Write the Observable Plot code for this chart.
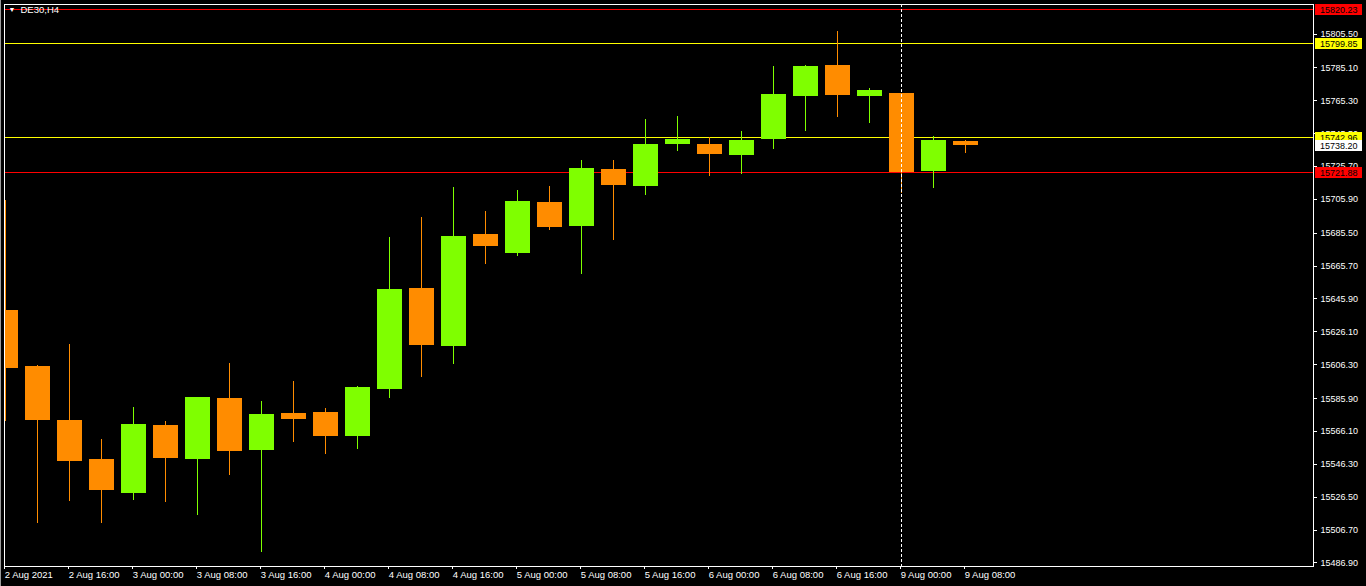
<!DOCTYPE html>
<html>
<head>
<meta charset="utf-8">
<script src="https://cdn.jsdelivr.net/npm/d3@7"></script>
<script src="https://cdn.jsdelivr.net/npm/@observablehq/plot@0.6"></script>
<style>
html, body { margin: 0; padding: 0; background: #000; overflow: hidden; }
#chart { position: relative; width: 1366px; height: 586px; }
#edge { position: absolute; left: 0; top: 0; width: 1px; height: 586px; background: #9a9a9a; }
</style>
</head>
<body>
<div id="chart"><div id="edge"></div></div>
<script>
// ---- data (DE30, H4) ----
const barTimes = [
  "2021-08-02 08:00","2021-08-02 12:00","2021-08-02 16:00","2021-08-02 20:00",
  "2021-08-03 00:00","2021-08-03 04:00","2021-08-03 08:00","2021-08-03 12:00","2021-08-03 16:00","2021-08-03 20:00",
  "2021-08-04 00:00","2021-08-04 04:00","2021-08-04 08:00","2021-08-04 12:00","2021-08-04 16:00","2021-08-04 20:00",
  "2021-08-05 00:00","2021-08-05 04:00","2021-08-05 08:00","2021-08-05 12:00","2021-08-05 16:00","2021-08-05 20:00",
  "2021-08-06 00:00","2021-08-06 04:00","2021-08-06 08:00","2021-08-06 12:00","2021-08-06 16:00","2021-08-06 20:00",
  "2021-08-09 00:00","2021-08-09 04:00","2021-08-09 08:00"
];
const opens  = [15638.9,15605.0,15572.7,15549.2,15528.7,15569.7,15549.2,15585.9,15554.6,15576.9,
                15577.5,15563.0,15591.3,15652.2,15617.2,15684.7,15673.3,15704.0,15689.5,15723.9,
                15713.6,15738.9,15738.9,15732.3,15741.9,15767.8,15786.5,15767.8,15769.7,15722.7,15740.7];
const highs  = [15705.2,15605.8,15618.5,15561.2,15580.5,15572.1,15586.5,15607.0,15584.1,15596.2,
                15579.9,15593.1,15682.9,15695.0,15713.0,15698.6,15711.2,15713.6,15729.3,15729.3,
                15754.0,15755.8,15743.2,15746.8,15785.9,15786.5,15807.0,15772.7,15769.7,15743.8,15741.3];
const lows   = [15572.2,15510.8,15523.9,15510.8,15524.5,15523.3,15515.4,15539.5,15493.2,15559.4,
                15552.2,15555.2,15585.9,15598.6,15606.4,15666.6,15671.5,15687.1,15660.6,15681.1,
                15708.2,15734.7,15719.7,15720.9,15735.9,15746.8,15755.2,15751.6,15709.4,15712.4,15733.5];
const closes = [15604.2,15572.7,15548.0,15530.5,15570.3,15549.8,15586.5,15554.0,15576.3,15573.3,
                15563.0,15592.5,15651.6,15617.8,15683.5,15677.5,15704.6,15688.9,15724.5,15714.2,
                15738.9,15741.9,15732.9,15741.3,15769.1,15785.9,15768.5,15771.5,15721.88,15741.3,15738.2];

const timeTickIdx = [0,2,4,6,8,10,12,14,16,18,20,22,24,26,28,30];
const timeTickLabels = ["2 Aug 2021","2 Aug 16:00","3 Aug 00:00","3 Aug 08:00","3 Aug 16:00",
  "4 Aug 00:00","4 Aug 08:00","4 Aug 16:00","5 Aug 00:00","5 Aug 08:00","5 Aug 16:00",
  "6 Aug 00:00","6 Aug 08:00","6 Aug 16:00","9 Aug 00:00","9 Aug 08:00"];
const priceTicks = [15805.5,15785.1,15765.3,15745.5,15725.7,15705.9,15685.5,15665.7,15645.9,
  15626.1,15606.3,15585.9,15566.1,15546.3,15526.5,15506.7,15486.9];

const redLevels = [15820.23, 15721.88];
const yellowLevels = [15799.85, 15742.96];
const bidPrice = 15738.20;
const separatorTime = "2021-08-09 00:00";
const symbolTitle = "DE30,H4";

// ---- styles ----
const UP = "#7FFF00", DOWN = "#FF8C00";
const FONT = "Liberation Sans, Arial, sans-serif";
const candles = opens.map((o, i) => ({i, time: barTimes[i], open: o, high: highs[i], low: lows[i], close: closes[i]}));
const col = d => d.close >= d.open ? UP : DOWN;
const sepIdx = barTimes.indexOf(separatorTime);

const W = 1366, H = 586, mL = 4, mR = 53, mT = 4, mB = 20;
const crisp = {shapeRendering: "crispEdges"};

const plot = Plot.plot({
  width: W, height: H,
  marginLeft: mL, marginRight: mR, marginTop: mT, marginBottom: mB,
  style: {background: "#000", color: "#fff", fontFamily: FONT, fontSize: "9.5px"},
  x: {domain: [-0.04, 40.87]},
  y: {domain: [15484.79, 15823.27]},
  color: {type: "identity"},
  marks: [
    Plot.ruleY(redLevels, {stroke: "#FF0000", strokeWidth: 1, ...crisp}),
    Plot.ruleY(yellowLevels, {stroke: "#FFFF00", strokeWidth: 1, ...crisp}),
    Plot.ruleX(candles, {x: "i", y1: "low", y2: "high", stroke: col, strokeWidth: 1, clip: true, ...crisp}),
    Plot.ruleX(candles, {x: "i", y1: "open", y2: "close", stroke: col, strokeWidth: 25, clip: true, ...crisp}),
    Plot.ruleX([sepIdx], {stroke: "#fff", strokeDasharray: "3,2", strokeWidth: 1, ...crisp}),
    Plot.frame({stroke: "#fff", ...crisp}),
    Plot.axisY({anchor: "right", ticks: priceTicks, tickFormat: d => d.toFixed(2), tickSize: 3, tickPadding: 4, label: null, stroke: "#fff", fill: "#fff", fontSize: 9, ...crisp}),
    Plot.axisX({anchor: "bottom", ticks: timeTickIdx, tickFormat: i => timeTickLabels[timeTickIdx.indexOf(i)], tickSize: 3, tickPadding: 2, textAnchor: "start", dx: -1, label: null, stroke: "#fff", fill: "#fff", fontSize: 9.5, ...crisp}),
    Plot.text([symbolTitle], {frameAnchor: "top-left", dx: 16, dy: 2, fill: "#fff", fontSize: 9.5, textAnchor: "start"}),
    Plot.text(["▼"], {frameAnchor: "top-left", dx: 4, dy: 3, fill: "#fff", fontSize: 7, textAnchor: "start"})
  ]
});

// price labels on the right price scale
const ys = plot.scale("y");
const svg = d3.select(plot);
const labels = [
  ...redLevels.map(v => ({v, bg: "#FF0000"})),
  ...yellowLevels.map(v => ({v, bg: "#FFFF00"})),
  {v: bidPrice, bg: "#FFFFFF"}
];
const g = svg.append("g").attr("text-anchor", "start");
const xr = W - mR;
labels.forEach(l => {
  const y = Math.round(ys.apply(l.v));
  g.append("rect").attr("x", xr + 2).attr("y", y - 5).attr("width", 47).attr("height", 11)
    .attr("fill", l.bg).attr("shape-rendering", "crispEdges");
  g.append("text").attr("x", xr + 7).attr("y", y + 0.5).attr("dy", "0.35em")
    .attr("text-anchor", "start")
    .attr("fill", "#000").attr("font-size", 9).attr("font-family", FONT)
    .text(l.v.toFixed(2));
});

document.getElementById("chart").appendChild(plot);
</script>
</body>
</html>
